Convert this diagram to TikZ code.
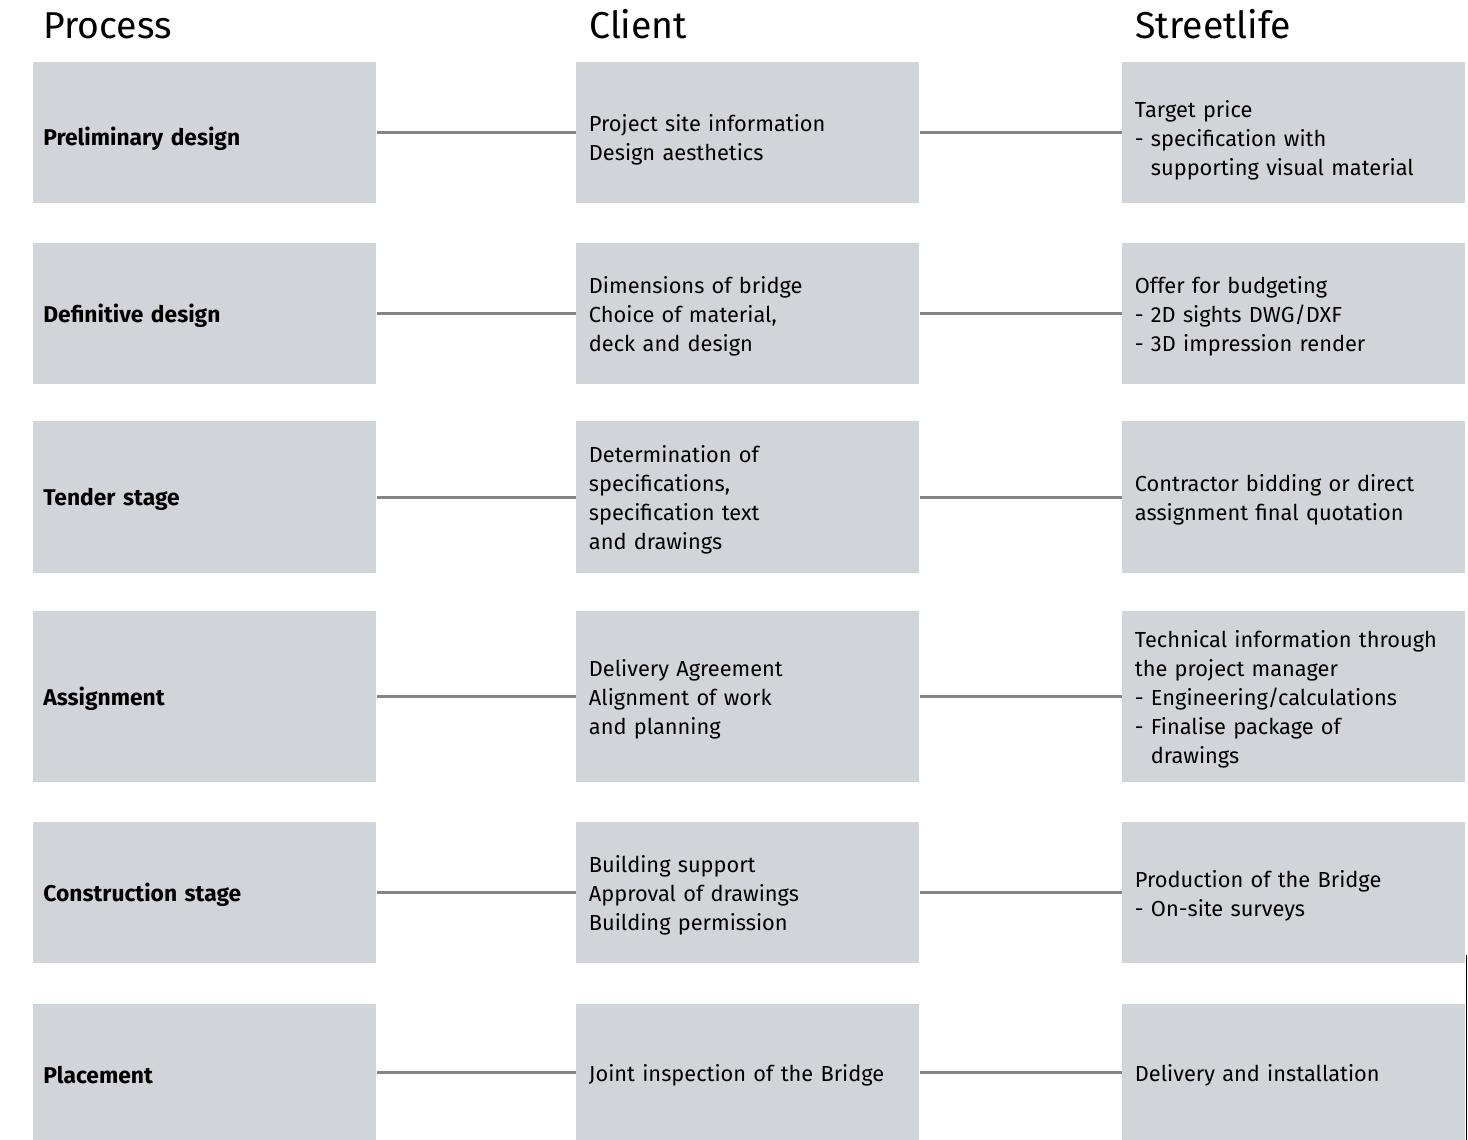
\documentclass[tikz,border=0pt]{standalone}
\usepackage{fontspec}
\setmainfont{Fira Sans}
\definecolor{boxgrey}{HTML}{D1D5D9}
\definecolor{linegrey}{HTML}{858585}
\tikzset{
    stage/.style={fill=boxgrey, anchor=north west, minimum width=171.5pt,
        text width=159pt, inner xsep=6.25pt, inner ysep=0pt, align=left,
        font=\fontsize{10.9}{14.5}\selectfont,
        execute at begin node={\rule{0pt}{11pt}}},
    procstage/.style={stage, inner xsep=5pt, text width=161.5pt,
        font=\fontsize{11.4}{14.5}\selectfont\bfseries},
    toprow/.style={execute at begin node={\rule{0pt}{15.5pt}}},
    link/.style={draw=linegrey, line width=1.5pt},
    heading/.style={anchor=base west, inner sep=0pt, font=\fontsize{18.7}{20}\selectfont}
}
\begin{document}
\begin{tikzpicture}[x=0.5pt, y=-0.5pt]
    \useasboundingbox (0,0) rectangle (1468,1140);
    \foreach \x / \lab in {43/Process, 589/Client, 1135/Streetlife}
    {
        \node[heading] (head\x) at (\x, 39) {\lab};
    }
    % rows
    \node[procstage, toprow, minimum height=70.5pt] (proc1) at (33, 62) {Preliminary design};
    \node[stage, toprow, minimum height=70.5pt] (client1) at (576, 62) {Project site information\\Design aesthetics};
    \node[stage, toprow, minimum height=70.5pt] (street1) at (1122, 62) {Target price\\- specification with\\\hphantom{- }supporting visual material};

    \node[procstage, minimum height=70.5pt] (proc2) at (33, 243) {Definitive design};
    \node[stage, minimum height=70.5pt] (client2) at (576, 243) {Dimensions of bridge\\Choice of material,\\deck and design};
    \node[stage, minimum height=70.5pt] (street2) at (1122, 243) {Offer for budgeting\\- 2D sights DWG/DXF\\- 3D impression render};

    \node[procstage, minimum height=76pt] (proc3) at (33, 421) {Tender stage};
    \node[stage, minimum height=76pt] (client3) at (576, 421) {Determination of\\specifications,\\specification text\\and drawings};
    \node[stage, minimum height=76pt] (street3) at (1122, 421) {Contractor bidding or direct\\assignment final quotation};

    \node[procstage, minimum height=85.5pt] (proc4) at (33, 611) {Assignment};
    \node[stage, minimum height=85.5pt] (client4) at (576, 611) {Delivery Agreement\\Alignment of work\\and planning};
    \node[stage, minimum height=85.5pt] (street4) at (1122, 611) {Technical information through\\the project manager\\- Engineering/calculations\\- Finalise package of\\\hphantom{- }drawings};

    \node[procstage, minimum height=70.5pt] (proc5) at (33, 822) {Construction stage};
    \node[stage, minimum height=70.5pt] (client5) at (576, 822) {Building support\\Approval of drawings\\Building permission};
    \node[stage, minimum height=70.5pt] (street5) at (1122, 822) {Production of the Bridge\\- On-site surveys};

    \node[procstage, minimum height=68pt] (proc6) at (33, 1004) {Placement};
    \node[stage, minimum height=68pt] (client6) at (576, 1004) {Joint inspection of the Bridge};
    \node[stage, minimum height=68pt] (street6) at (1122, 1004) {Delivery and installation};

    \foreach \r in {1,...,6}
    {
        \draw[link] (proc\r) -- (client\r);
        \draw[link] (client\r) -- (street\r);
    }
    \draw[black, line width=0.6pt] (1466.5, 955) -- (1466.5, 1140);
\end{tikzpicture}
\end{document}
